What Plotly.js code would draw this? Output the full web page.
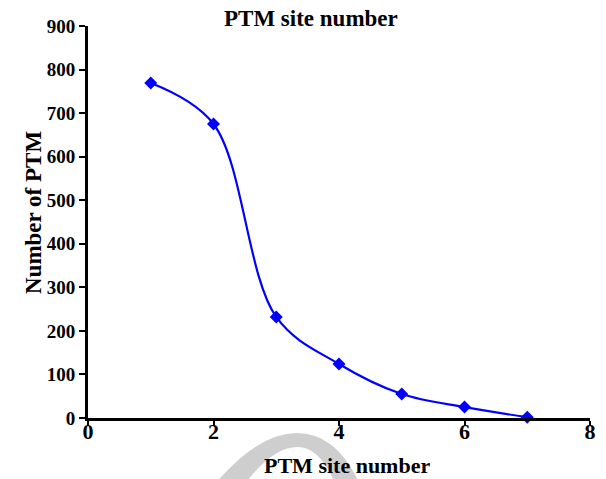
<!DOCTYPE html>
<html>
<head>
<meta charset="utf-8">
<script src="https://cdn.plot.ly/plotly-3.0.1.min.js"></script>
<style>html,body{margin:0;padding:0;background:#fff;}#chart{width:606px;height:479px;}</style>
</head>
<body>
<div id="chart"></div>
<script>
const siteNumber = [1, 2, 3, 4, 5, 6, 7];
const ptmCount = [769, 675, 232, 124, 55, 25, 2];
const xTicks = [0, 2, 4, 6, 8];
const yTicks = [0, 100, 200, 300, 400, 500, 600, 700, 800, 900];

const fontFam = '"Liberation Serif", "Times New Roman", serif';

const trace = {
  x: siteNumber,
  y: ptmCount,
  type: 'scatter',
  mode: 'lines+markers',
  line: {color: '#0000ff', width: 2.2, shape: 'spline', smoothing: 1},
  marker: {symbol: 'diamond', size: 10, color: '#0000ff'},
  cliponaxis: false,
  showlegend: false
};

function px2paper(px, py) {
  return ((px - 88) / 502).toFixed(3) + ',' + ((418 - py) / 392).toFixed(3);
}
const wm = 'M ' + px2paper(214, 485) +
  ' Q ' + px2paper(258, 433) + ' ' + px2paper(297, 433) +
  ' Q ' + px2paper(337, 433) + ' ' + px2paper(360, 485) +
  ' L ' + px2paper(336, 485) +
  ' Q ' + px2paper(320, 447) + ' ' + px2paper(298, 447) +
  ' Q ' + px2paper(272, 447) + ' ' + px2paper(244, 485) + ' Z';

const layout = {
  width: 606,
  height: 479,
  margin: {l: 88, r: 16, t: 26, b: 61},
  paper_bgcolor: '#ffffff',
  plot_bgcolor: '#ffffff',
  font: {family: fontFam, color: '#000', size: 20},
  title: {
    text: '<b>PTM site number</b>',
    x: 0.444, xref: 'paper', xanchor: 'center',
    y: 1, yref: 'container', yanchor: 'top', pad: {t: 10},
    font: {family: fontFam, size: 23, color: '#000'}
  },
  xaxis: {
    range: [0, 8],
    tickvals: xTicks,
    ticktext: xTicks.map(v => '<b>' + v + '</b>'),
    ticks: 'outside', ticklen: 5, tickwidth: 2, tickcolor: '#000',
    ticklabelstandoff: -13,
    showline: true, linewidth: 3, linecolor: '#000',
    showgrid: false, zeroline: false,
    tickfont: {family: fontFam, size: 22, color: '#000'}
  },
  yaxis: {
    range: [0, 900],
    tickvals: yTicks,
    ticktext: yTicks.map(v => '<b>' + v + '</b>'),
    ticks: 'outside', ticklen: 6, tickwidth: 2, tickcolor: '#000',
    showline: true, linewidth: 3, linecolor: '#000',
    showgrid: false, zeroline: false,
    tickfont: {family: fontFam, size: 19, color: '#000'}
  },
  annotations: [
    {
      text: '<b>PTM site number</b>', xref: 'paper', yref: 'paper',
      x: (347 - 88) / 502, y: (418 - 466) / 392, xanchor: 'center', yanchor: 'middle',
      showarrow: false, font: {family: fontFam, size: 22, color: '#000'}
    },
    {
      text: '<b>Number of PTM</b>', xref: 'paper', yref: 'paper', textangle: -90,
      x: (33 - 88) / 502, y: (418 - 213) / 392, xanchor: 'center', yanchor: 'middle',
      showarrow: false, font: {family: fontFam, size: 23, color: '#000'}
    }
  ],
  shapes: [{
    type: 'path', xref: 'paper', yref: 'paper', layer: 'above',
    path: wm,
    fillcolor: 'rgba(190,190,190,0.75)', line: {width: 0}
  }]
};

Plotly.newPlot('chart', [trace], layout, {displayModeBar: false, staticPlot: true});
</script>
</body>
</html>
